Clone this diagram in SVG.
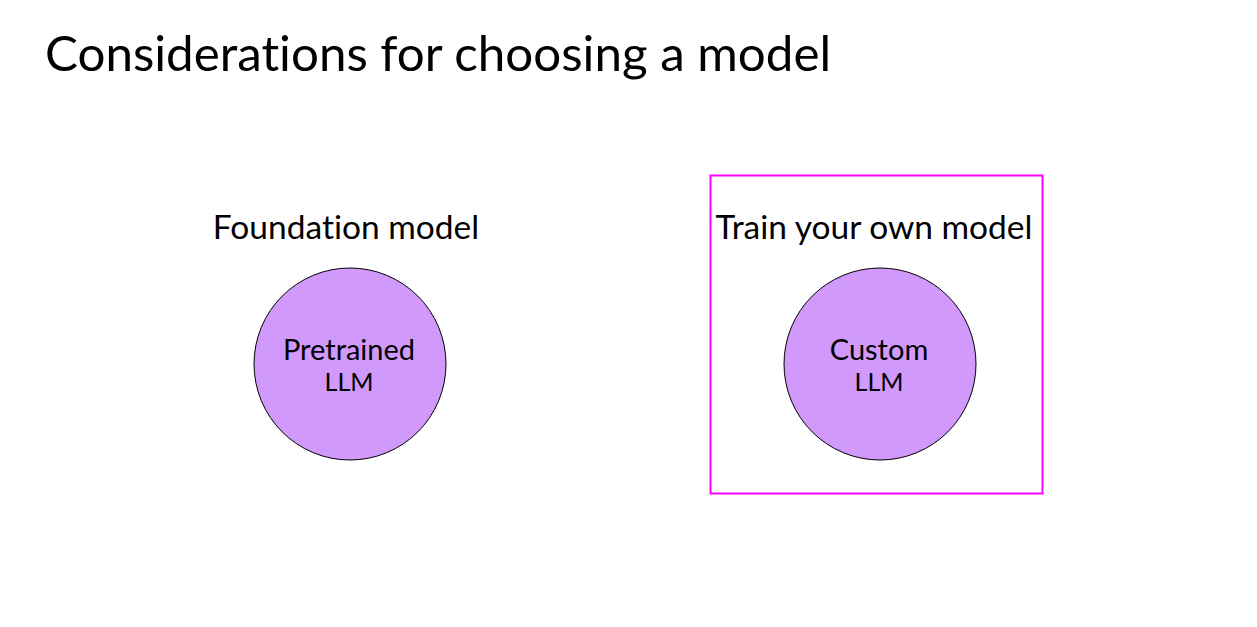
<svg xmlns="http://www.w3.org/2000/svg" width="1257" height="627" viewBox="0 0 1257 627">
<style>
text{font-family:Lato,"Open Sans","Liberation Sans",sans-serif;fill:#000;font-variant-ligatures:none}
.title{font-size:49.3px}
.sub{font-size:33.5px;text-anchor:middle}
.l1{font-size:29px;text-anchor:middle}
.l2{font-size:25px;text-anchor:middle}
.node{fill:#d099fb;stroke:#000;stroke-width:1}
</style>
<rect width="1257" height="627" fill="#fff"/>
<text class="title" x="45" y="71">Considerations for choosing a model</text>
<g id="foundation">
<text class="sub" x="346" y="239">Foundation model</text>
<circle class="node" cx="350" cy="364" r="96"/>
<text class="l1" x="349" y="360">Pretrained</text>
<text class="l2" x="349" y="391">LLM</text>
</g>
<g id="custom">
<rect x="710.5" y="175.5" width="332" height="318" fill="none" stroke="#f0f" stroke-width="2"/>
<text class="sub" x="874" y="239">Train your own model</text>
<circle class="node" cx="880" cy="364" r="96"/>
<text class="l1" x="879" y="360">Custom</text>
<text class="l2" x="879" y="391">LLM</text>
</g>
<g id="connectors"></g>
</svg>
